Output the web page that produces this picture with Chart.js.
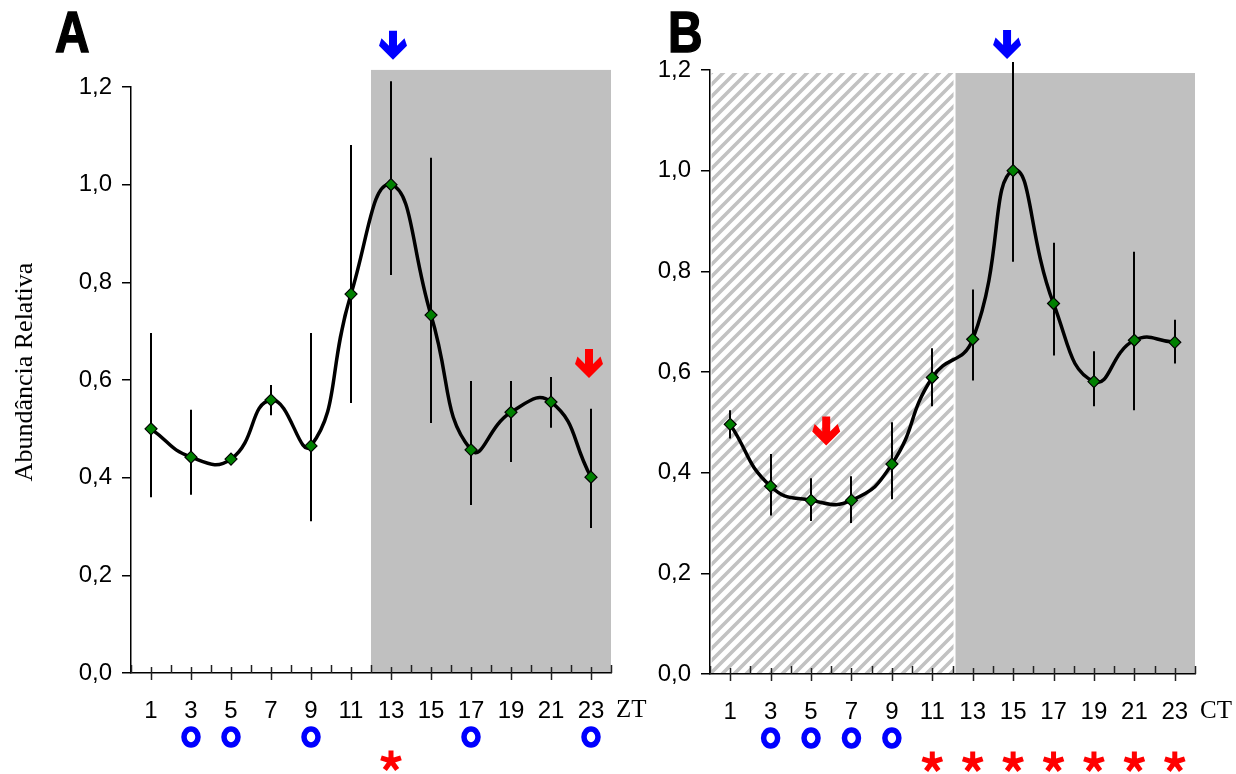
<!DOCTYPE html>
<html><head><meta charset="utf-8">
<script src="https://cdn.jsdelivr.net/npm/chart.js@4.4.1/dist/chart.umd.min.js"></script>
<style>
body{margin:0;background:#fff;width:1236px;height:774px;overflow:hidden;position:relative}
canvas{position:absolute;top:0}
</style></head><body>
<canvas id="cA" width="660" height="774" style="left:0"></canvas>
<canvas id="cB" width="596" height="774" style="left:640px"></canvas>
<script>
// ---------- data ----------
const hours = [1,3,5,7,9,11,13,15,17,19,21,23];
const xTickLabelsOdd = ['1','3','5','7','9','11','13','15','17','19','21','23'];
const yTitle = 'Abundância Relativa';

const meanA  = [0.500,0.442,0.438,0.559,0.465,0.776,1.000,0.733,0.457,0.534,0.555,0.401];
const errHiA = [0.696,0.539,0.445,0.590,0.696,1.081,1.212,1.055,0.598,0.598,0.606,0.541];
const errLoA = [0.360,0.365,0.431,0.528,0.311,0.553,0.815,0.512,0.344,0.432,0.502,0.297];

const meanB  = [0.496,0.373,0.345,0.345,0.417,0.589,0.665,1.000,0.736,0.581,0.663,0.659];
const errHiB = [0.524,0.437,0.389,0.393,0.500,0.647,0.764,1.216,0.857,0.641,0.839,0.704];
const errLoB = [0.468,0.315,0.304,0.300,0.347,0.532,0.583,0.819,0.633,0.532,0.524,0.617];

const circlesA = [3,5,9,17,23];
const starsA   = [13];
const circlesB = [3,5,7,9];
const starsB   = [11,13,15,17,19,21,23];

const arrowsA = [{x:13.1, y:1.256, color:'#0000ff'}, {x:22.9, y:0.604, color:'#ff0000'}];
const arrowsB = [{x:14.7, y:1.222, color:'#0000ff'}, {x:5.75, y:0.454, color:'#ff0000'}];

const bandsA = [{from:12, to:24, top:1.235, fill:'gray'}];
const bandsB = [{from:0.08, to:12.05, top:1.194, fill:'hatch'}, {from:12.15, to:24, top:1.194, fill:'gray'}];

// ---------- helpers ----------
function hatchPattern(ctx){
  const c = document.createElement('canvas');
  c.width = 12; c.height = 12;
  const g = c.getContext('2d');
  g.fillStyle = '#ffffff'; g.fillRect(0,0,12,12);
  g.strokeStyle = '#c2c2c2'; g.lineWidth = 3.6;
  g.beginPath();
  g.moveTo(-3,15); g.lineTo(15,-3);
  g.moveTo(-9,9); g.lineTo(9,-9);
  g.moveTo(3,21); g.lineTo(21,3);
  g.stroke();
  return ctx.createPattern(c,'repeat');
}
function drawArrow(ctx, cx, tipY, color){
  const s = [[-4,0],[4,0],[4,15],[11.5,7.5],[14,15],[0,29],[-14,15],[-11.5,7.5],[-4,15]];
  ctx.save(); ctx.fillStyle = color; ctx.beginPath();
  s.forEach((p,i)=>{ const px = cx+p[0], py = tipY-29+p[1]; i?ctx.lineTo(px,py):ctx.moveTo(px,py); });
  ctx.closePath(); ctx.fill(); ctx.restore();
}
function drawCircle(ctx, cx, cy){
  ctx.save(); ctx.strokeStyle = '#0000ff'; ctx.lineWidth = 5.5;
  ctx.beginPath(); ctx.ellipse(cx, cy, 7, 8, 0, 0, Math.PI*2); ctx.stroke(); ctx.restore();
}
function drawStar(ctx, cx, cy){
  ctx.save(); ctx.strokeStyle = '#ff0000'; ctx.lineWidth = 5; ctx.lineCap='butt';
  ctx.beginPath();
  for(let k=0;k<5;k++){
    const a = -Math.PI/2 + k*2*Math.PI/5;
    ctx.moveTo(cx, cy); ctx.lineTo(cx+10.5*Math.cos(a), cy+10.5*Math.sin(a));
  }
  ctx.stroke(); ctx.restore();
}

function panelPlugin(p){
  return {
    id: 'panel'+p.letter,
    beforeDraw(chart){
      const ctx = chart.ctx, xs = chart.scales.x, ys = chart.scales.y;
      p.bands.forEach(b=>{
        const x0 = xs.getPixelForValue(b.from), x1 = xs.getPixelForValue(b.to);
        const y0 = ys.getPixelForValue(b.top), y1 = ys.getPixelForValue(0);
        ctx.save();
        ctx.fillStyle = b.fill==='hatch' ? hatchPattern(ctx) : '#c0c0c0';
        ctx.fillRect(x0, y0, x1-x0, y1-y0);
        ctx.restore();
      });
    },
    beforeDatasetsDraw(chart){
      const ctx = chart.ctx, xs = chart.scales.x, ys = chart.scales.y;
      ctx.save(); ctx.strokeStyle = '#000'; ctx.lineWidth = 2;
      p.x.forEach((h,i)=>{
        const px = Math.round(xs.getPixelForValue(h));
        ctx.beginPath();
        ctx.moveTo(px, ys.getPixelForValue(p.hi[i]));
        ctx.lineTo(px, ys.getPixelForValue(p.lo[i]));
        ctx.stroke();
      });
      ctx.restore();
    },
    afterDraw(chart){
      const ctx = chart.ctx, xs = chart.scales.x, ys = chart.scales.y;
      const y0 = ys.getPixelForValue(0);
      // x-axis tick marks
      ctx.save(); ctx.strokeStyle = '#222'; ctx.lineWidth = 1.5;
      for(let v=0; v<=24; v++){
        const px = Math.round(xs.getPixelForValue(v))+0.5;
        ctx.beginPath();
        if(v%2===1){ ctx.moveTo(px, y0-6); ctx.lineTo(px, y0+7); }
        else { ctx.moveTo(px, y0-8); ctx.lineTo(px, y0); }
        ctx.stroke();
      }
      ctx.restore();
      // arrows
      p.arrows.forEach(a=>drawArrow(ctx, xs.getPixelForValue(a.x), ys.getPixelForValue(a.y), a.color));
      // significance marks
      p.circles.forEach(h=>drawCircle(ctx, xs.getPixelForValue(h), y0+64));
      p.stars.forEach(h=>drawStar(ctx, xs.getPixelForValue(h), y0+88));
      // unit label
      ctx.save(); ctx.fillStyle='#000'; ctx.font = '25px "Liberation Serif", serif';
      ctx.textBaseline='middle'; ctx.textAlign='left';
      ctx.fillText(p.unit, xs.right+5, y0+37);
      // y-axis title
      if(p.yTitle){
        ctx.save();
        ctx.translate(25, (ys.top+ys.bottom)/2 - 8);
        ctx.rotate(-Math.PI/2);
        ctx.textAlign='center'; ctx.textBaseline='middle';
        ctx.font = '26px "Liberation Serif", serif';
        ctx.fillText(yTitle, 0, 0);
        ctx.restore();
      }
      // panel letter (condensed bold)
      ctx.save();
      ctx.translate(p.letterX, 52);
      ctx.scale(0.84, 1);
      ctx.font = 'bold 57px "Liberation Sans", Arial, sans-serif';
      ctx.textBaseline='alphabetic'; ctx.textAlign='left';
      ctx.lineWidth = 1.5; ctx.strokeStyle = '#000';
      ctx.fillText(p.letter, 0, 0);
      ctx.strokeText(p.letter, 0, 0);
      ctx.restore();
      ctx.restore();
    }
  };
}

function makeChart(id, p){
  const tickFont = {family:'"Liberation Sans", Arial, sans-serif', size:24};
  return new Chart(document.getElementById(id), {
    type:'line',
    data:{ datasets:[{
      data: p.x.map((h,i)=>({x:h, y:p.mean[i]})),
      borderColor:'#000', borderWidth:3.5, tension:0.5, clip:false,
      pointStyle:'rectRot', pointRadius:6, pointBackgroundColor:'#008000',
      pointBorderColor:'#000', pointBorderWidth:1.2
    }]},
    options:{
      responsive:false, animation:false, devicePixelRatio:1,
      layout:{padding:{left:0, right:p.padRight, top:p.top, bottom:0}},
      plugins:{legend:{display:false}, tooltip:{enabled:false}},
      scales:{
        x:{type:'linear', min:0, max:24,
          grid:{display:false, drawTicks:false},
          border:{display:true, color:'#000', width:1.5},
          ticks:{stepSize:1, autoSkip:false, maxRotation:0, padding:24, color:'#000', font:tickFont,
            callback:(v)=>{ const i = hours.indexOf(v); return i>=0 ? xTickLabelsOdd[i] : ''; }},
          afterFit:(s)=>{ s.height = p.xHeight; }
        },
        y:{min:0, max:1.2,
          grid:{drawOnChartArea:false, drawTicks:true, tickLength:9, color:'#000', lineWidth:1.5},
          border:{display:true, color:'#000', width:1.5},
          ticks:{stepSize:0.2, padding:10, color:'#000', font:tickFont,
            callback:(v)=>Number(v).toFixed(1).replace('.',',')},
          afterFit:(s)=>{ s.width = p.yWidth; }
        }
      }
    },
    plugins:[panelPlugin(p)]
  });
}

makeChart('cA', {letter:'A', letterX:55, unit:'ZT', x:hours, mean:meanA, hi:errHiA, lo:errLoA,
  circles:circlesA, stars:starsA, arrows:arrowsA, bands:bandsA,
  top:87, padRight:49, xHeight:101, yWidth:131, yTitle:true});
makeChart('cB', {letter:'B', letterX:28, unit:'CT', x:hours, mean:meanB, hi:errHiB, lo:errLoB,
  circles:circlesB, stars:starsB, arrows:arrowsB, bands:bandsB,
  top:70, padRight:41, xHeight:100, yWidth:70, yTitle:false});
</script>
</body></html>
